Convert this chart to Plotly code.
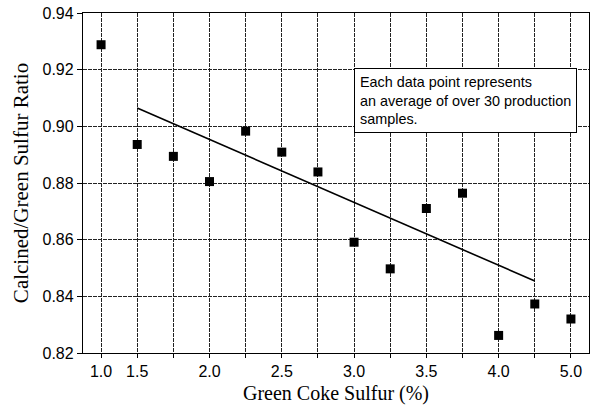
import plotly.graph_objects as go

categories = ["1.0", "1.5", "1.75", "2.0", "2.25", "2.5", "2.75", "3.0",
              "3.25", "3.5", "3.75", "4.0", "4.25", "5.0"]
ratio = [0.9288, 0.8936, 0.8894, 0.8805, 0.8983, 0.8909, 0.8839, 0.8591,
         0.8497, 0.8710, 0.8764, 0.8262, 0.8373, 0.8320]
tick_text = ["1.0", "1.5", "", "2.0", "", "2.5", "", "3.0",
             "", "3.5", "", "4.0", "", "5.0"]
trend_x = ["1.5", "4.25"]
trend_y = [0.9065, 0.8454]
y_ticks = [0.82, 0.84, 0.86, 0.88, 0.90, 0.92, 0.94]

fig = go.Figure()
fig.add_trace(go.Scatter(x=trend_x, y=trend_y, mode="lines",
                         line=dict(color="black", width=1.6), showlegend=False))
fig.add_trace(go.Scatter(x=categories, y=ratio, mode="markers",
                         marker=dict(symbol="square", size=9, color="black"),
                         showlegend=False))

fig.add_annotation(
    x=0.5365, y=0.837, xref="paper", yref="paper", xanchor="left", yanchor="top",
    text="Each data point represents<br>an average of over 30 production<br>samples.",
    showarrow=False, align="left",
    font=dict(family="Liberation Sans, Arial", size=14.4, color="black"),
    bordercolor="black", borderwidth=1, borderpad=5, bgcolor="white",
)

grid = dict(showgrid=True, gridcolor="#222222", griddash="4px,1px", gridwidth=1,
            showline=True, linecolor="black", linewidth=1.3, mirror=True,
            tickcolor="black", ticks="outside",
            tickfont=dict(family="Liberation Sans, Arial", size=16, color="black"))

fig.update_xaxes(
    type="category", categoryorder="array", categoryarray=categories,
    tickvals=categories, ticktext=tick_text, range=[-0.5, 13.5], ticklen=4,
    title=dict(text="Green Coke Sulfur (%)", standoff=6,
               font=dict(family="Liberation Serif, Times New Roman", size=20, color="black")),
    **grid,
)
fig.update_yaxes(
    range=[0.82, 0.94], tickvals=y_ticks, tickformat=".2f", ticklen=5,
    title=dict(text="Calcined/Green Sulfur Ratio", standoff=8,
               font=dict(family="Liberation Serif, Times New Roman", size=21, color="black")),
    **grid,
)
fig.update_layout(
    width=595, height=405,
    margin=dict(l=83, r=5, t=12, b=49),
    plot_bgcolor="white", paper_bgcolor="white",
)
fig.write_html("out.html")
